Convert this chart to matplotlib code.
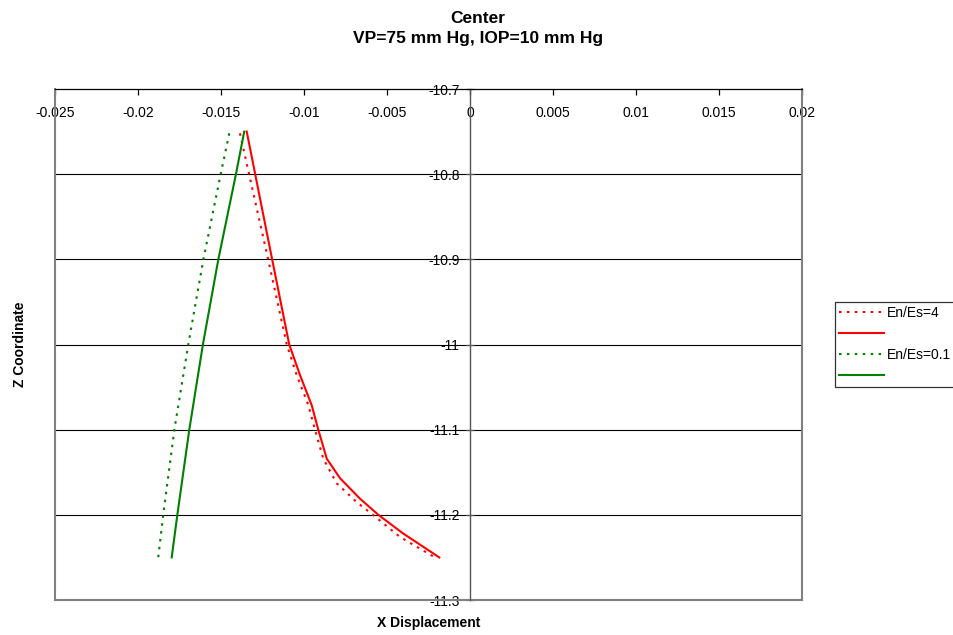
import matplotlib
matplotlib.use("Agg")
import matplotlib.pyplot as plt
from matplotlib.lines import Line2D
from matplotlib.ticker import FixedLocator, FuncFormatter

plt.rcParams['font.family'] = ['Liberation Sans', 'DejaVu Sans']

# ---- data ----
red_dot_z = [-10.752, -10.9, -11.0, -11.036, -11.071, -11.1,
             -11.134, -11.163, -11.185, -11.202, -11.226, -11.25]
red_dot_x = [-0.01386, -0.01216, -0.01104, -0.01044, -0.00974, -0.00934,
             -0.00884, -0.00803, -0.00683, -0.00572, -0.00422, -0.00211]

red_sol_z = [-10.75, -10.8, -10.9, -11.0, -11.036, -11.071, -11.1,
             -11.134, -11.157, -11.181, -11.2, -11.222, -11.25]
red_sol_x = [-0.01345, -0.01294, -0.01192, -0.01089, -0.01024, -0.00954, -0.00914,
             -0.00863, -0.00783, -0.00663, -0.00552, -0.00402, -0.00185]

grn_dot_z = [-10.752, -10.8, -10.9, -11.0, -11.1, -11.2, -11.25]
grn_dot_x = [-0.0145, -0.01502, -0.01606, -0.01697, -0.01781, -0.01848, -0.01878]

grn_sol_z = [-10.75, -10.8, -10.9, -11.0, -11.1, -11.2, -11.25]
grn_sol_x = [-0.0136, -0.0141, -0.01516, -0.01609, -0.01691, -0.01763, -0.01797]

x_ticks = [-0.025, -0.02, -0.015, -0.01, -0.005, 0, 0.005, 0.01, 0.015, 0.02]
y_ticks = [-10.7, -10.8, -10.9, -11.0, -11.1, -11.2, -11.3]
legend_labels = ["En/Es=4", "", "En/Es=0.1", ""]

title = "Center\nVP=75 mm Hg, IOP=10 mm Hg"
xlabel = "X Displacement"
ylabel = "Z Coordinate"

# ---- figure ----
W, H = 954, 635
fig = plt.figure(figsize=(W / 100, H / 100), dpi=100)
L, R, T, B = 55, 802, 89, 600
ax = fig.add_axes([L / W, (H - B) / H, (R - L) / W, (B - T) / H])

dotted = (0, (1.2, 2.6))
h1, = ax.plot(red_dot_x, red_dot_z, color='#ff0000', lw=1.5, ls=dotted)
h2, = ax.plot(red_sol_x, red_sol_z, color='#ff0000', lw=1.5)
h3, = ax.plot(grn_dot_x, grn_dot_z, color='#008000', lw=1.5, ls=dotted)
h4, = ax.plot(grn_sol_x, grn_sol_z, color='#008000', lw=1.5)

ax.set_xlim(x_ticks[0], x_ticks[-1])
ax.set_ylim(y_ticks[-1], y_ticks[0])

fmt = FuncFormatter(lambda v, p: f"{v:g}")
ax.xaxis.set_major_locator(FixedLocator(x_ticks))
ax.yaxis.set_major_locator(FixedLocator(y_ticks))
ax.xaxis.set_major_formatter(fmt)
ax.yaxis.set_major_formatter(fmt)

# x axis drawn at the top (z = -10.7), labels below it
ax.spines['bottom'].set_position(('data', y_ticks[0]))
ax.spines['bottom'].set_color('black')
ax.spines['bottom'].set_linewidth(0.9)
ax.spines['top'].set_visible(False)
# y axis drawn at x = 0
ax.spines['left'].set_position(('data', 0))
ax.spines['left'].set_color('#555555')
ax.spines['left'].set_linewidth(1.0)
ax.spines['right'].set_color('#808080')
ax.spines['right'].set_linewidth(1.5)

ax.tick_params(axis='x', direction='out', length=4, width=0.9, labelsize=10, pad=8, color='black')
ax.tick_params(axis='y', direction='inout', length=6, width=0.9, labelsize=10, pad=4.5, color='#555555')

# plot-area frame (left and bottom)
for xs, ys in (([0, 0], [0, 1]), ([0, 1], [0, 0])):
    ax.add_line(Line2D(xs, ys, transform=ax.transAxes, color='#808080', lw=1.5, clip_on=False))

ax.yaxis.grid(True, color='black', lw=0.8)
ax.set_axisbelow(True)
gl = ax.yaxis.get_gridlines()
gl[0].set_visible(False)
gl[-1].set_visible(False)

fig.text(478 / W, 1 - 11 / H, title, ha='center', va='top', fontsize=12.5, fontweight='bold', linespacing=1.4)
fig.text((L + R) / 2 / W, 1 - 623 / H, xlabel, ha='center', va='center', fontsize=10, fontweight='bold')
fig.text(20 / W, 1 - (T + B) / 2 / H, ylabel, ha='center', va='center', rotation=90, fontsize=10, fontweight='bold')

leg = fig.legend([h1, h2, h3, h4], legend_labels, loc='upper left',
                 bbox_to_anchor=(835 / W, 1 - 302 / H), bbox_transform=fig.transFigure,
                 fontsize=10, frameon=True, fancybox=False, edgecolor='black',
                 handlelength=3.2, handletextpad=0.2, labelspacing=0.5,
                 borderpad=0.3, borderaxespad=0)
leg.get_frame().set_linewidth(0.9)

fig.savefig("out.png", dpi=100)
